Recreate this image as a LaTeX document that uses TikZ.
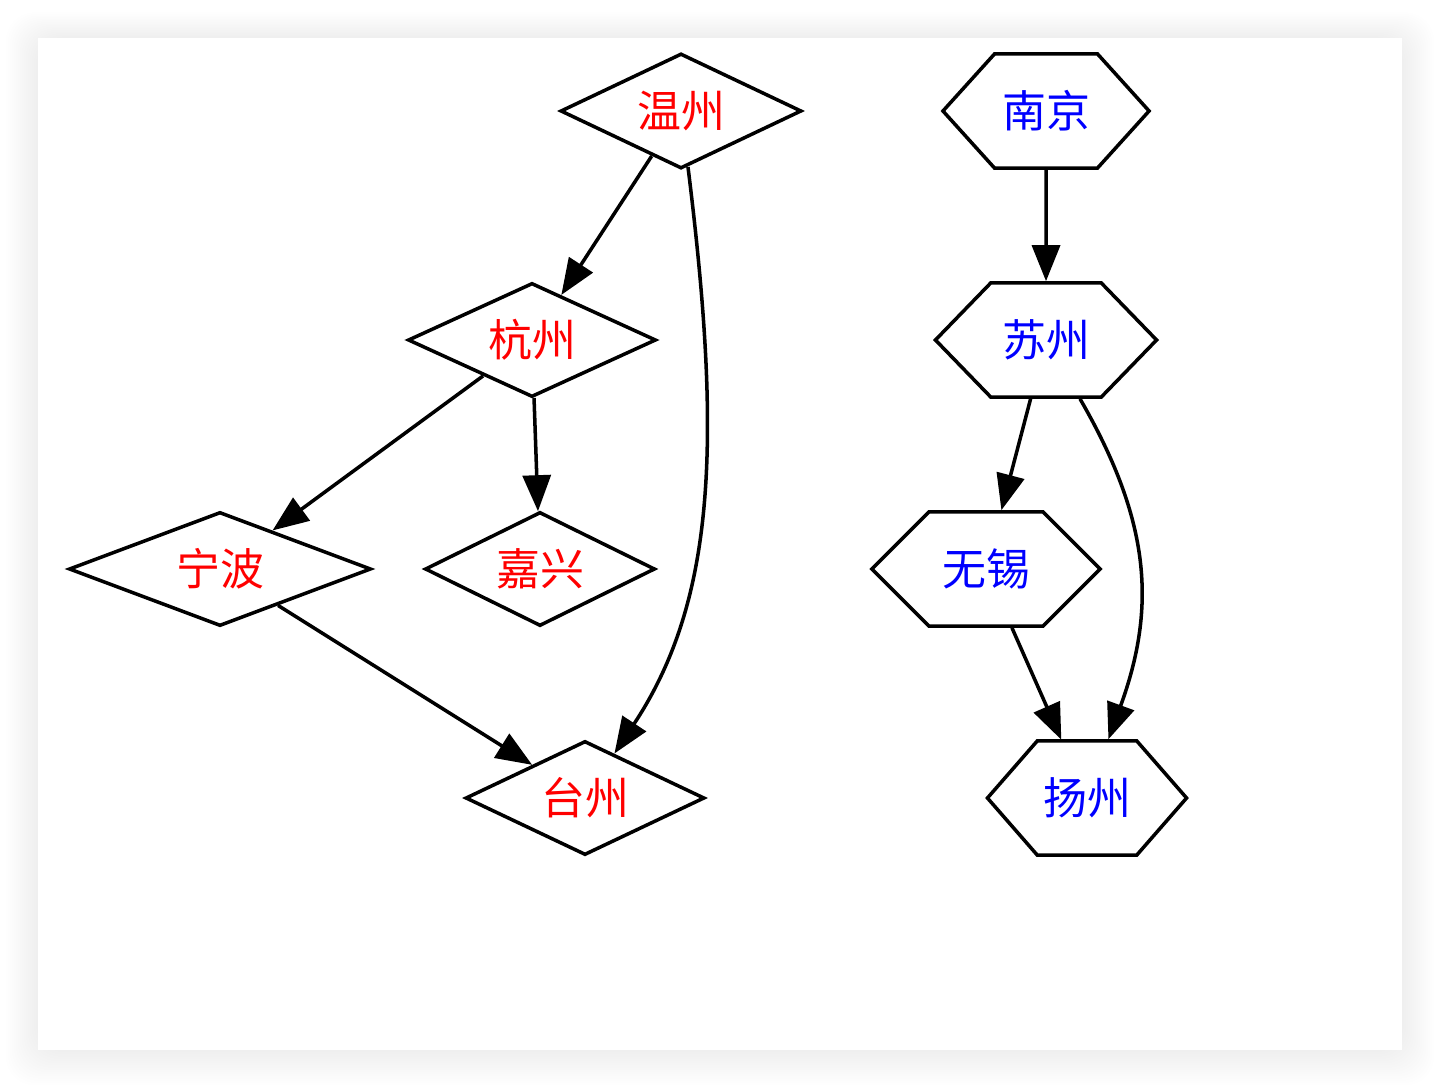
\documentclass[tikz,border=0pt]{standalone}
\usepackage{fontspec}
\newfontfamily\cjk{Noto Sans CJK SC}
\usetikzlibrary{shapes.geometric,shapes.symbols,arrows.meta}
\begin{document}
\begin{tikzpicture}
[x=0.01cm,y=-0.01cm,line width=1pt,
 zjnode/.style={diamond,aspect=2,draw,inner sep=0pt,minimum height=1.14cm,text=red,font=\cjk\fontsize{12.5}{15}\selectfont},
 jsnode/.style={signal,signal to=west and east,draw,inner sep=0pt,minimum height=1.14cm,text=blue,font=\cjk\fontsize{12.5}{15}\selectfont},
 link/.style={-{Triangle[length=3.6mm,width=2.8mm]}}]
\useasboundingbox (0,0) rectangle (1440,1088);
% card and its shadow
\foreach \i in {1,...,16}
	\fill [black,opacity=0.004,rounded corners=8pt] (38-2*\i,38-1.6*\i) rectangle (1402+2*\i,1050+2.2*\i);
\fill [white] (38,38) rectangle (1402,1050);

\node (wz) at (681,111) [zjnode,minimum width=2.41cm,minimum height=1.15cm] {温州};
\node (hz) at (532,340) [zjnode,minimum width=2.48cm] {杭州};
\node (nb) at (220,569) [zjnode,minimum width=3.02cm] {宁波};
\node (jx) at (540,569) [zjnode,minimum width=2.30cm] {嘉兴};
\node (tz) at (585,798) [zjnode,minimum width=2.39cm] {台州};

\node (nj) at (1046,111) [jsnode,minimum width=2.06cm,signal pointer angle=95.8] {南京};
\node (sz) at (1046,340) [jsnode,minimum width=2.21cm,signal pointer angle=91.8] {苏州};
\node (wx) at (986,569) [jsnode,minimum width=2.28cm,signal pointer angle=90] {无锡};
\node (yz) at (1087,798) [jsnode,minimum width=1.99cm,signal pointer angle=97.8] {扬州};

\foreach \from/\to in {wz/hz, hz/nb, hz/jx, nb/tz, nj/sz, sz/wx, wx/yz}
	\draw [link] (\from) -- (\to);
\draw [link] (wz) .. controls (722,440) and (716,600) .. (tz);
\draw [link] (sz) .. controls (1150,520) and (1157,606) .. (yz);

\end{tikzpicture}
\end{document}
